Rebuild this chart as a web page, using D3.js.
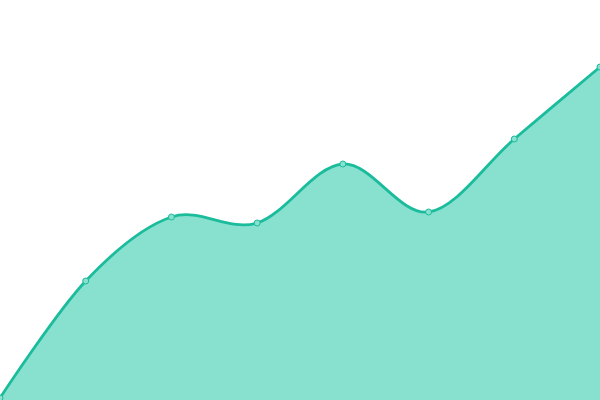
<!DOCTYPE html>
<html><head><meta charset="utf-8">
<script src="https://cdn.jsdelivr.net/npm/d3@7"></script>
<style>html,body{margin:0;padding:0;background:#fff;overflow:hidden}</style>
</head><body>
<svg id="c" width="600" height="400"></svg>
<script>
const categories = ["A","B","C","D","E","F","G","H"];
const values = [2, 119, 183, 177, 236, 188, 261, 333];

const W = 600, H = 400;
const svg = d3.select("#c");
const x = d3.scalePoint().domain(categories).range([0, W]);
const y = d3.scaleLinear().domain([0, 400]).range([H, 0]);
const data = categories.map((c, i) => ({c, v: values[i]}));

const curve = d3.curveCardinal;
svg.append("path").datum(data)
  .attr("d", d3.area().x(d => x(d.c)).y0(H).y1(d => y(d.v)).curve(curve))
  .attr("fill", "#88e0cf");
svg.append("path").datum(data)
  .attr("d", d3.line().x(d => x(d.c)).y(d => y(d.v)).curve(curve))
  .attr("fill", "none").attr("stroke", "#1abc9c").attr("stroke-width", 2.8);
svg.selectAll("circle").data(data).enter().append("circle")
  .attr("cx", d => x(d.c)).attr("cy", d => y(d.v)).attr("r", 3)
  .attr("fill", "#88e0cf").attr("stroke", "#1abc9c").attr("stroke-width", 1);
</script>
</body></html>
